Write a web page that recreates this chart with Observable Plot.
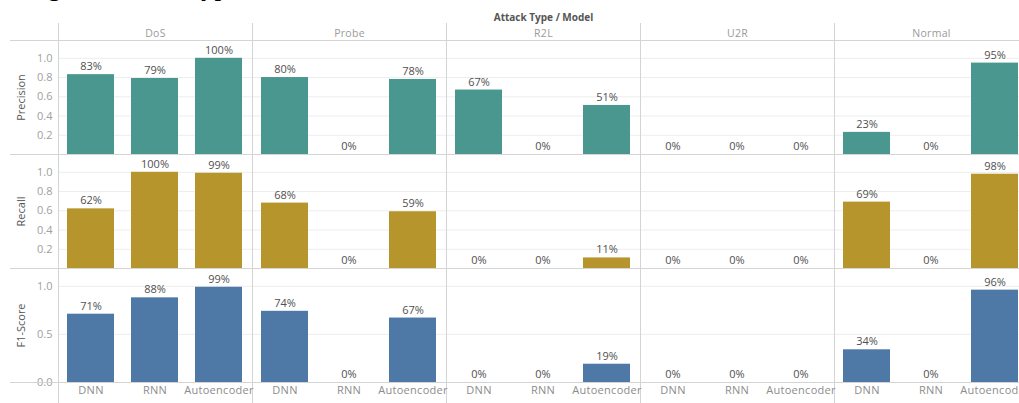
<!DOCTYPE html>
<html><head><meta charset="utf-8">
<script src="https://cdn.jsdelivr.net/npm/d3@7"></script>
<script src="https://cdn.jsdelivr.net/npm/@observablehq/plot@0.6"></script>
<style>
html,body{margin:0;padding:0;background:#fff;overflow:hidden;}
#wrap{position:relative;width:1028px;}
#charts svg{max-width:none !important;display:block;}
#fig{position:absolute;left:25px;top:-27px;font-size:27px;line-height:1;font-family:"Liberation Serif","Times New Roman",serif;color:#000;white-space:nowrap;}
g[aria-label="fx-axis label"]{font-weight:bold;fill:#555 !important;font-size:10px;}
g[aria-label="fx-axis tick label"]{fill:#9a9a9a !important;font-size:10.5px;letter-spacing:0.3px;}
g[aria-label="y-axis label"]{fill:#555 !important;}
g[aria-label="x-axis tick label"]{letter-spacing:0.3px;}
</style></head><body>
<div id="wrap"><div id="charts"></div><div id="fig">Figure: Attack Type</div></div>
<script>
const attackTypes = ["DoS", "Probe", "R2L", "U2R", "Normal"];
const models = ["DNN", "RNN", "Autoencoder"];
const metrics = ["Precision", "Recall", "F1-Score"];
// values per attack type, in model order DNN, RNN, Autoencoder
const precisionValues = [0.83, 0.79, 1.00, 0.80, 0.00, 0.78, 0.67, 0.00, 0.51, 0.00, 0.00, 0.00, 0.23, 0.00, 0.95];
const recallValues    = [0.62, 1.00, 0.99, 0.68, 0.00, 0.59, 0.00, 0.00, 0.11, 0.00, 0.00, 0.00, 0.69, 0.00, 0.98];
const f1Values        = [0.71, 0.88, 0.99, 0.74, 0.00, 0.67, 0.00, 0.00, 0.19, 0.00, 0.00, 0.00, 0.34, 0.00, 0.96];
const precisionTicks = [0.2, 0.4, 0.6, 0.8, 1.0];
const recallTicks = [0.2, 0.4, 0.6, 0.8, 1.0];
const f1Ticks = [0.0, 0.5, 1.0];
const colors = ["#4A978F", "#B6962C", "#4E78A6"];

const FONT = "'Open Sans', sans-serif";
const yMax = 1.185;
const lineColor = "#d4d4d4";

function rows(values) {
  return attackTypes.flatMap((a, i) => models.map((m, j) => ({attack: a, model: m, value: values[i * 3 + j]})));
}

function makeRow({label, values, ticks, color, header, xAxis, height, marginTop, marginBottom}) {
  const data = rows(values);
  const sepLines = header ? [0, yMax] : [0];
  return Plot.plot({
    width: 1028,
    height,
    marginLeft: 58,
    marginRight: 0,
    marginTop,
    marginBottom,
    style: {fontFamily: FONT, fontSize: "11px", background: "transparent", overflow: "visible", maxWidth: "none"},
    facet: {data, x: "attack"},
    fx: {
      domain: attackTypes, padding: 0,
      axis: header ? "top" : null,
      tickSize: 0, tickPadding: 4,
      label: header ? "Attack Type / Model" : null,
      labelAnchor: "center", labelOffset: 27
    },
    x: {domain: models, paddingInner: 0.26, paddingOuter: 0.13, axis: null},
    y: {domain: [0, yMax], axis: null},
    marks: [
      Plot.ruleY(ticks.filter(t => t > 0), {stroke: "#ededed"}),
      Plot.frame({anchor: "left", stroke: lineColor, insetTop: header ? -17 : 0, insetBottom: xAxis ? -21 : 0}),
      Plot.ruleY(sepLines, {stroke: lineColor}),
      Plot.barY(data, {x: "model", y: "value", fill: color}),
      Plot.text(data, {x: "model", y: "value", text: d => Math.round(d.value * 100) + "%", dy: -8, fill: "#505050"}),
      xAxis ? Plot.axisX({tickSize: 0, tickPadding: 4, fill: "#8c8c8c", label: null}) : null,
      Plot.axisY(ticks, {tickSize: 0, tickPadding: 6, tickFormat: d3.format(".1f"), fill: "#a0a0a0",
        label, labelAnchor: "center", labelOffset: 41, labelArrow: "none"}),
      Plot.axisY(sepLines, {tickSize: 48, tickFormat: () => "", stroke: lineColor, label: null})
    ]
  });
}

const charts = document.getElementById("charts");
charts.append(makeRow({label: metrics[0], values: precisionValues, ticks: precisionTicks, color: colors[0], header: true, xAxis: false, height: 154, marginTop: 40, marginBottom: 0}));
charts.append(makeRow({label: metrics[1], values: recallValues, ticks: recallTicks, color: colors[1], header: false, xAxis: false, height: 114, marginTop: 0, marginBottom: 0}));
charts.append(makeRow({label: metrics[2], values: f1Values, ticks: f1Ticks, color: colors[2], header: false, xAxis: true, height: 135, marginTop: 0, marginBottom: 21}));
</script>
</body></html>
